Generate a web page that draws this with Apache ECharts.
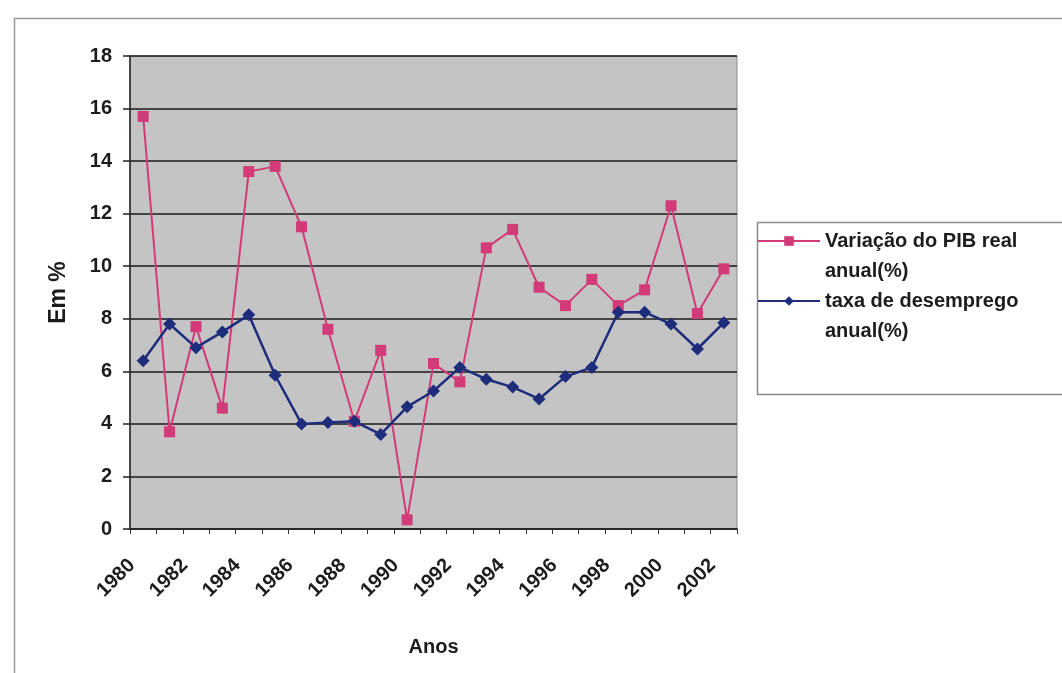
<!DOCTYPE html>
<html>
<head>
<meta charset="utf-8">
<script src="https://cdn.jsdelivr.net/npm/echarts@6/dist/echarts.min.js"></script>
<style>
  html, body { margin: 0; padding: 0; background: #ffffff; }
  #chart { width: 1062px; height: 673px; }
</style>
</head>
<body>
<div id="chart"></div>
<script>
// Anos 1980-2002
const years = ['1980','1981','1982','1983','1984','1985','1986','1987','1988','1989','1990',
  '1991','1992','1993','1994','1995','1996','1997','1998','1999','2000','2001','2002'];

// Variação do PIB real anual (%)
const pibReal = [15.7, 3.7, 7.7, 4.6, 13.6, 13.8, 11.5, 7.6, 4.1, 6.8, 0.35,
  6.3, 5.6, 10.7, 11.4, 9.2, 8.5, 9.5, 8.5, 9.1, 12.3, 8.2, 9.9];

// Taxa de desemprego anual (%)
const desemprego = [6.4, 7.8, 6.9, 7.5, 8.15, 5.85, 4.0, 4.05, 4.1, 3.6, 4.65,
  5.25, 6.15, 5.7, 5.4, 4.95, 5.8, 6.15, 8.25, 8.25, 7.8, 6.85, 7.85];

const seriesNames = ['Variação do PIB real\nanual(%)', 'taxa de desemprego\nanual(%)'];

const PINK = '#d23a78';
const NAVY = '#1e2c7c';
const TEXT = '#1c1c1c';
const FONT = 'Liberation Sans, Arial, sans-serif';

const chart = echarts.init(document.getElementById('chart'), null, { renderer: 'canvas' });

// Legend text: a leading blank line keeps the symbol level with the first line
const legendText = {
  fontFamily: FONT, fontWeight: 'bold', fontSize: 20, color: TEXT, lineHeight: 30
};
const legendFormatter = name => '\n' + name;

chart.setOption({
  backgroundColor: '#ffffff',
  animation: false,
  grid: {
    left: 130, top: 56, right: 325, bottom: 144,
    show: true, backgroundColor: '#c4c4c4', borderColor: '#8a8a8a', borderWidth: 1
  },
  legend: [
    {
      data: [seriesNames[0]], orient: 'vertical', left: 757, top: 196,
      itemWidth: 62, itemHeight: 12, itemGap: 0, textStyle: legendText, padding: 0,
      formatter: legendFormatter
    },
    {
      data: [seriesNames[1]], orient: 'vertical', left: 757, top: 256,
      itemWidth: 62, itemHeight: 12, itemGap: 0, textStyle: legendText, padding: 0,
      formatter: legendFormatter
    }
  ],
  xAxis: {
    type: 'category',
    data: years,
    boundaryGap: true,
    name: 'Anos',
    nameLocation: 'middle',
    nameGap: 108,
    nameTextStyle: { fontFamily: FONT, fontWeight: 'bold', fontSize: 20, color: TEXT },
    axisLine: { show: true, lineStyle: { color: '#222', width: 1.5 } },
    axisTick: { show: true, interval: 0, length: 5, lineStyle: { color: '#333', width: 1 } },
    axisLabel: {
      interval: 1, rotate: 45, margin: 22,
      fontFamily: FONT, fontWeight: 'bold', fontSize: 20, color: TEXT,
      padding: [0, 16, 0, 0]
    },
    splitLine: { show: false }
  },
  yAxis: {
    type: 'value',
    min: 0, max: 18, interval: 2,
    name: 'Em %',
    nameLocation: 'middle',
    nameRotate: 90,
    nameGap: 60,
    nameTextStyle: { fontFamily: FONT, fontWeight: 'bold', fontSize: 23, color: TEXT },
    axisLine: { show: true, lineStyle: { color: '#222', width: 1.5 } },
    axisTick: { show: true, length: 7, lineStyle: { color: '#222', width: 1.5 } },
    axisLabel: {
      margin: 18, fontFamily: FONT, fontWeight: 'bold', fontSize: 20, color: TEXT
    },
    splitLine: { show: true, lineStyle: { color: '#1a1a1a', width: 1.5 } }
  },
  series: [
    {
      name: seriesNames[0], type: 'line', data: pibReal,
      symbol: 'rect', symbolSize: 11,
      itemStyle: { color: PINK },
      lineStyle: { color: PINK, width: 2 },
      z: 3
    },
    {
      name: seriesNames[1], type: 'line', data: desemprego,
      symbol: 'diamond', symbolSize: [13, 13],
      itemStyle: { color: NAVY },
      lineStyle: { color: NAVY, width: 2.5 },
      z: 4
    }
  ],
  graphic: [
    {
      type: 'rect', left: 12, top: 16, silent: true, z: -1,
      shape: { width: 1100, height: 720 },
      style: { fill: 'none', stroke: '#9a9a9a', lineWidth: 1.5 }
    },
    {
      type: 'rect', left: 755, top: 220, silent: true, z: -1,
      shape: { width: 400, height: 172 },
      style: { fill: 'none', stroke: '#8a8a8a', lineWidth: 1.5 }
    }
  ]
});
</script>
</body>
</html>
